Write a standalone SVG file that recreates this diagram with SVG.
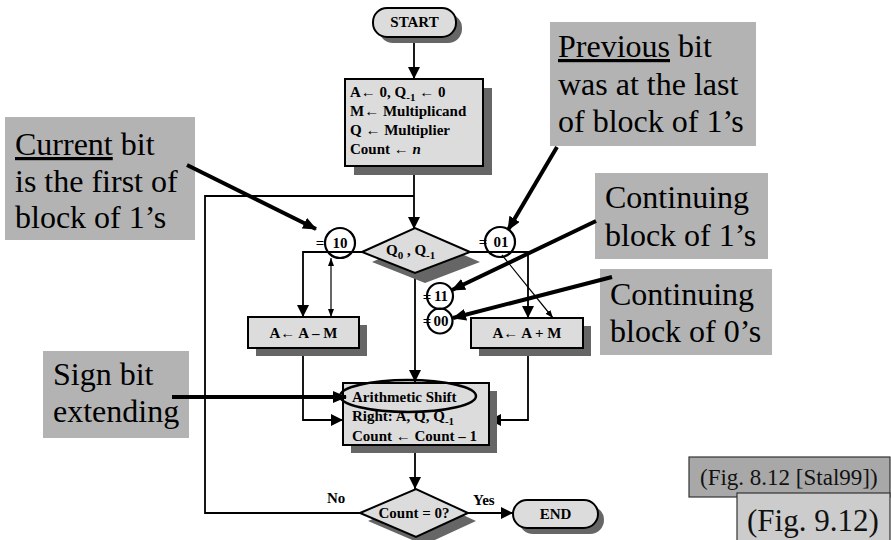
<svg xmlns="http://www.w3.org/2000/svg" width="891" height="540" viewBox="0 0 891 540">
<defs>
<style>
.node{fill:#dcdcdc;stroke:#000;stroke-width:2}
.shadow{fill:#666}
.ft{font-family:'Liberation Serif','DejaVu Serif',serif;font-weight:bold;font-size:15px;fill:#000}
.flow{fill:none;stroke:#000;stroke-width:1.8}
.thin{fill:none;stroke:#000;stroke-width:1.2}
.callout{fill:none;stroke:#000;stroke-width:4}
.cbox{fill:#b3b3b3}
.ct{font-family:'Liberation Serif','DejaVu Serif',serif;font-size:32px;fill:#000}
.fl{font-family:'Liberation Serif','DejaVu Serif',serif;fill:#111}
.circ{fill:none;stroke:#000;stroke-width:2.2}
</style>
<marker id="ah" viewBox="0 0 12 12" refX="12" refY="6" markerWidth="12" markerHeight="12" markerUnits="userSpaceOnUse" orient="auto"><path d="M0,0 L12,6 L0,12 z" fill="#000"/></marker>
<marker id="ahs" viewBox="0 0 8 6" refX="8" refY="3" markerWidth="8" markerHeight="6" markerUnits="userSpaceOnUse" orient="auto"><path d="M0,0 L8,3 L0,6 z" fill="#000"/></marker>
<marker id="ahs2" viewBox="0 0 8 6" refX="8" refY="3" markerWidth="8" markerHeight="6" markerUnits="userSpaceOnUse" orient="auto-start-reverse"><path d="M0,0 L8,3 L0,6 z" fill="#000"/></marker>
<marker id="ahc" viewBox="0 0 14 12" refX="13" refY="6" markerWidth="14" markerHeight="12" markerUnits="userSpaceOnUse" orient="auto"><path d="M0,0 L14,6 L0,12 z" fill="#000"/></marker>
</defs>

<g id="connectors">
<line class="flow" x1="414" y1="37" x2="414" y2="79" marker-end="url(#ah)"/>
<line class="flow" x1="414" y1="166" x2="414" y2="229" marker-end="url(#ah)"/>
<polyline class="flow" points="360,513 205,513 205,196 414,196"/>
<polyline class="flow" points="362,252 303,252 303,317" marker-end="url(#ah)"/>
<polyline class="flow" points="470,252 528,252 528,318" marker-end="url(#ah)"/>
<line class="flow" x1="415" y1="273" x2="415" y2="382" marker-end="url(#ah)"/>
<polyline class="flow" points="303,348 303,420 343,420" marker-end="url(#ah)"/>
<polyline class="flow" points="528,348 528,420 489,420" marker-end="url(#ah)"/>
<line class="flow" x1="415" y1="445" x2="415" y2="489" marker-end="url(#ah)"/>
<line class="flow" x1="468" y1="513" x2="513" y2="513" marker-end="url(#ah)"/>
<line class="thin" x1="331" y1="258" x2="331" y2="317" marker-start="url(#ahs2)" marker-end="url(#ahs)"/>
<line class="thin" x1="502" y1="255" x2="553" y2="318" marker-end="url(#ahs)"/>
</g>

<g id="start">
<rect class="shadow" x="379" y="14" width="83" height="29" rx="14"/>
<rect class="node" x="373" y="8" width="83" height="29" rx="14"/>
<text class="ft" x="414.5" y="27" text-anchor="middle">START</text>
</g>

<g id="init">
<rect class="shadow" x="354" y="88" width="138" height="87"/>
<rect class="node" x="345" y="79" width="138" height="87"/>
<text class="ft" x="350" y="97">A← 0, Q<tspan font-size="11" dy="4">-1</tspan><tspan dy="-4"> ← 0</tspan></text>
<text class="ft" x="350" y="116">M← Multiplicand</text>
<text class="ft" x="350" y="135">Q ← Multiplier</text>
<text class="ft" x="350" y="154">Count ← <tspan font-style="italic">n</tspan></text>
</g>

<g id="decision1">
<polygon class="shadow" points="372,262 425,238 480,262 425,283"/>
<polygon class="node" points="362,252 415,228 470,252 415,273"/>
<text class="ft" x="386" y="255">Q<tspan font-size="11" dy="4">0</tspan><tspan dy="-4"> , Q</tspan><tspan font-size="11" dy="4">-1</tspan></text>
</g>

<g id="sub">
<rect class="shadow" x="256" y="325" width="111" height="31"/>
<rect class="node" x="248" y="317" width="111" height="31"/>
<text class="ft" x="303.5" y="338" text-anchor="middle">A← A – M</text>
</g>

<g id="add">
<rect class="shadow" x="479" y="326" width="112" height="30"/>
<rect class="node" x="471" y="318" width="112" height="30"/>
<text class="ft" x="527" y="338" text-anchor="middle">A← A + M</text>
</g>

<g id="shift">
<rect class="shadow" x="351" y="391" width="146" height="62"/>
<rect class="node" x="343" y="383" width="146" height="62"/>
<text class="ft" x="352" y="402">Arithmetic Shift</text>
<text class="ft" x="352" y="421">Right: A, Q, Q<tspan font-size="11" dy="4">-1</tspan></text>
<text class="ft" x="352" y="441">Count ← Count – 1</text>
</g>

<g id="decision2">
<polygon class="shadow" points="368,521 424,497 476,521 424,545"/>
<polygon class="node" points="360,513 416,489 468,513 416,537"/>
<text class="ft" x="414" y="518" text-anchor="middle">Count = 0?</text>
<text class="ft" x="327" y="503">No</text>
<text class="ft" x="473" y="505">Yes</text>
</g>

<g id="end">
<rect class="shadow" x="519" y="506" width="85" height="28" rx="14"/>
<rect class="node" x="513" y="500" width="85" height="28" rx="14"/>
<text class="ft" x="555.5" y="519" text-anchor="middle">END</text>
</g>

<g id="labels">
<text class="ft" x="320" y="248" text-anchor="middle">=</text>
<text class="ft" x="340" y="248" text-anchor="middle">10</text>
<circle class="circ" cx="340" cy="243" r="15"/>
<text class="ft" x="483" y="247" text-anchor="middle">=</text>
<text class="ft" x="501" y="247" text-anchor="middle">01</text>
<circle class="circ" cx="500" cy="242" r="15"/>
<text class="ft" x="427" y="302" text-anchor="middle">=</text>
<text class="ft" x="441" y="301" text-anchor="middle">11</text>
<circle class="circ" cx="440" cy="296" r="13"/>
<text class="ft" x="427" y="326" text-anchor="middle">=</text>
<text class="ft" x="441" y="326" text-anchor="middle">00</text>
<circle class="circ" cx="440" cy="321" r="12.5"/>
<ellipse fill="none" stroke="#000" stroke-width="2.5" cx="408" cy="396" rx="68" ry="16"/>
</g>

<g id="callout-current">
<rect class="cbox" x="5" y="117" width="190" height="123"/>
<text class="ct" x="15" y="155"><tspan text-decoration="underline">Current</tspan> bit</text>
<text class="ct" x="15" y="192">is the first of</text>
<text class="ct" x="15" y="228">block of 1’s</text>
<line class="callout" x1="187" y1="165" x2="316" y2="229" marker-end="url(#ahc)"/>
</g>

<g id="callout-previous">
<rect class="cbox" x="550" y="22" width="206" height="124"/>
<text class="ct" x="558" y="57"><tspan text-decoration="underline">Previous</tspan> bit</text>
<text class="ct" x="558" y="95">was at the last</text>
<text class="ct" x="558" y="132">of block of 1’s</text>
<line class="callout" x1="557" y1="147" x2="508" y2="230" marker-end="url(#ahc)"/>
</g>

<g id="callout-cont1">
<rect class="cbox" x="595" y="173" width="173" height="86"/>
<text class="ct" x="605" y="208">Continuing</text>
<text class="ct" x="605" y="246">block of 1’s</text>
<line class="callout" x1="596" y1="221" x2="452" y2="290" marker-end="url(#ahc)"/>
</g>

<g id="callout-cont0">
<rect class="cbox" x="600" y="269" width="172" height="86"/>
<text class="ct" x="610" y="305">Continuing</text>
<text class="ct" x="610" y="342">block of 0’s</text>
<line class="callout" x1="612" y1="277" x2="453" y2="318" marker-end="url(#ahc)"/>
</g>

<g id="callout-sign">
<rect class="cbox" x="43" y="351" width="146" height="87"/>
<text class="ct" x="53" y="385">Sign bit</text>
<text class="ct" x="53" y="422">extending</text>
<line class="callout" x1="172" y1="397" x2="346" y2="397" marker-end="url(#ahc)"/>
</g>

<g id="fig-labels">
<rect x="689" y="457" width="201" height="40" fill="#a8a8a8" stroke="#333" stroke-width="1.2"/>
<text class="fl" x="700" y="485" font-size="23">(Fig. 8.12 [Stal99])</text>
<rect x="737" y="493" width="153" height="50" fill="#cccccc" stroke="#333" stroke-width="1.2"/>
<text class="fl" x="747" y="531" font-size="31">(Fig. 9.12)</text>
</g>
</svg>
